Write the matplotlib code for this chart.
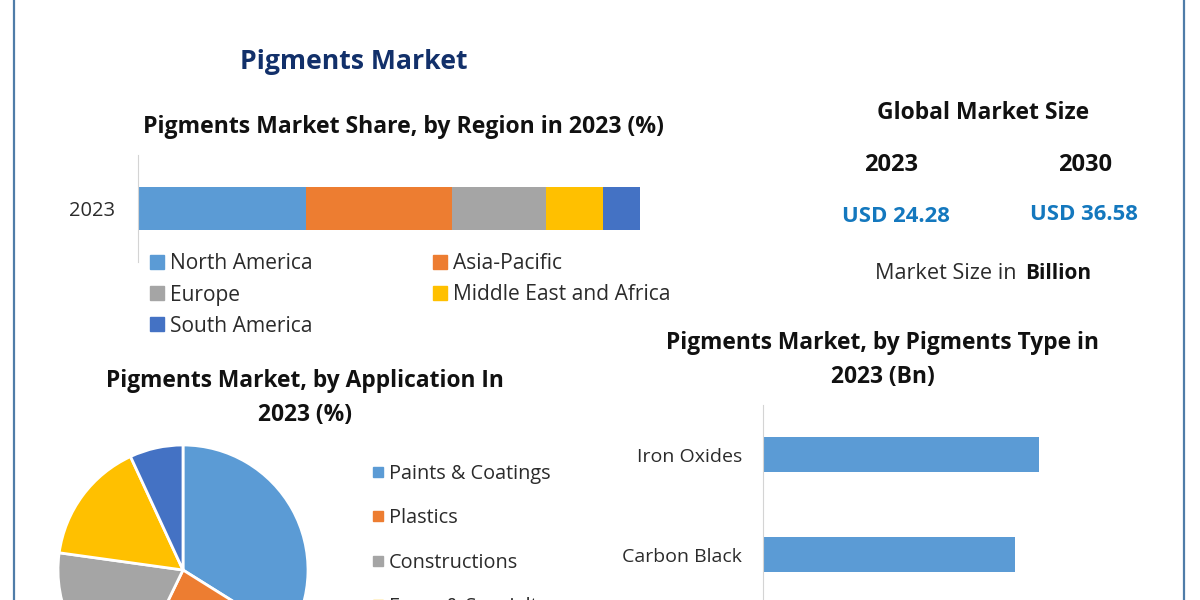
import matplotlib
matplotlib.use("Agg")
import matplotlib.pyplot as plt
from matplotlib.lines import Line2D
from matplotlib.patches import Rectangle

W, H = 1200, 600

regions = ["North America", "Asia-Pacific", "Europe", "Middle East and Africa", "South America"]
region_share = [33.5, 29.1, 18.7, 11.4, 7.3]
region_colors = ["#5B9BD5", "#ED7D31", "#A5A5A5", "#FFC000", "#4472C4"]

applications = ["Paints & Coatings", "Plastics", "Constructions", "Foam & Specialty", "Others"]
application_share = [33.9, 23.3, 20.0, 15.9, 6.9]

pigment_types = ["Iron Oxides", "Carbon Black"]
pigment_values = [7.6, 6.95]

FONT = ["Open Sans", "DejaVu Sans"]
plt.rcParams["font.family"] = FONT
NAVY = "#12306A"
BLACK = "#111111"
TXT = "#2B2B2B"
BLUE = "#1478BE"

fig = plt.figure(figsize=(W / 100, H / 100), dpi=100, facecolor="white")


def box(x0, y0, x1, y1):
    return [x0 / W, 1 - y1 / H, (x1 - x0) / W, (y1 - y0) / H]


def T(x, y, s, **kw):
    kw.setdefault("ha", "center")
    kw.setdefault("va", "center")
    return fig.text(x / W, 1 - y / H, s, **kw)


# Frame lines
for xp in (13.5, 1183.5):
    fig.add_artist(Line2D([xp / W, xp / W], [0, 1], color="#4F7CA8", lw=1.6))

# Titles
T(354, 62, "Pigments Market", fontsize=19.2, fontweight="bold", color=NAVY)
T(403, 127, "Pigments Market Share, by Region in 2023 (%)", fontsize=16.6, fontweight="bold", color=BLACK)
T(305, 381, "Pigments Market, by Application In", fontsize=16.4, fontweight="bold", color=BLACK)
T(305, 415, "2023 (%)", fontsize=16.4, fontweight="bold", color=BLACK)
T(883, 343, "Pigments Market, by Pigments Type in", fontsize=16.4, fontweight="bold", color=BLACK)
T(883, 377, "2023 (Bn)", fontsize=16.4, fontweight="bold", color=BLACK)

# Market size panel
T(983, 113, "Global Market Size", fontsize=16.5, fontweight="bold", color=BLACK)
T(891, 165, "2023", fontsize=17, fontweight="bold", color=BLACK)
T(1085, 165, "2030", fontsize=17, fontweight="bold", color=BLACK)
T(896, 216, "USD 24.28", fontsize=15.9, fontweight="bold", color=BLUE)
T(1084, 214, "USD 36.58", fontsize=15.9, fontweight="bold", color=BLUE)
T(875, 273, "Market Size in", ha="left", fontsize=15.6, color=TXT)
T(1058, 273, "Billion", fontsize=15, fontweight="bold", color=BLACK)

# Stacked region bar
ax1 = fig.add_axes(box(138, 155, 640, 262))
left = 0.0
for name, val, col in zip(regions, region_share, region_colors):
    ax1.barh([0], [val], left=left, height=0.402, color=col, label=name)
    left += val
ax1.set_xlim(0, sum(region_share))
ax1.set_ylim(-0.5, 0.5)
ax1.set_yticks([0], ["2023"], fontsize=14.5, color=TXT)
ax1.tick_params(axis="y", length=0, pad=16.5)
ax1.set_xticks([])
for side in ("top", "right", "bottom"):
    ax1.spines[side].set_visible(False)
ax1.spines["left"].set_color("#D4D4D4")
ax1.patch.set_alpha(0)

# Region legend
leg_pos = [(150, 262), (433, 262), (150, 293), (433, 293), (150, 324)]
for (x, y), name, col in zip(leg_pos, regions, region_colors):
    fig.add_artist(Rectangle((x / W, 1 - (y + 7) / H), 14 / W, 14 / H, color=col, transform=fig.transFigure))
    T(x + 20, y + 2, name, ha="left", fontsize=15.1, color=TXT)

# Pie (runs past the lower image edge, as in the reference)
ax2 = fig.add_axes(box(58, 445, 308, 695))
ax2.pie(application_share, colors=region_colors, startangle=90, counterclock=False, radius=1.0,
        wedgeprops=dict(edgecolor="white", linewidth=2.0))
ax2.set_xlim(-1, 1)
ax2.set_ylim(-1, 1)

# Pie legend
pie_leg = [472, 516, 561, 605]
for y, name, col in zip(pie_leg, applications, region_colors):
    fig.add_artist(Rectangle((373 / W, 1 - (y + 5) / H), 10 / W, 10 / H, color=col, transform=fig.transFigure))
    T(389, y + 2, name, ha="left", fontsize=14.3, color=TXT)

# Pigment type bars
ax3 = fig.add_axes(box(763, 405, 1160, 655))
ax3.barh(pigment_types, pigment_values, height=0.35, color="#5B9BD5")
ax3.set_xlim(0, 7.6 * 397 / 276)
ax3.set_ylim(2.0, -0.5)
ax3.tick_params(axis="y", length=0, pad=15, labelsize=14, labelcolor=TXT)
ax3.set_xticks([])
for side in ("top", "right", "bottom"):
    ax3.spines[side].set_visible(False)
ax3.spines["left"].set_color("#D4D4D4")
ax3.patch.set_alpha(0)

fig.savefig("out.png", dpi=100, facecolor="white")
